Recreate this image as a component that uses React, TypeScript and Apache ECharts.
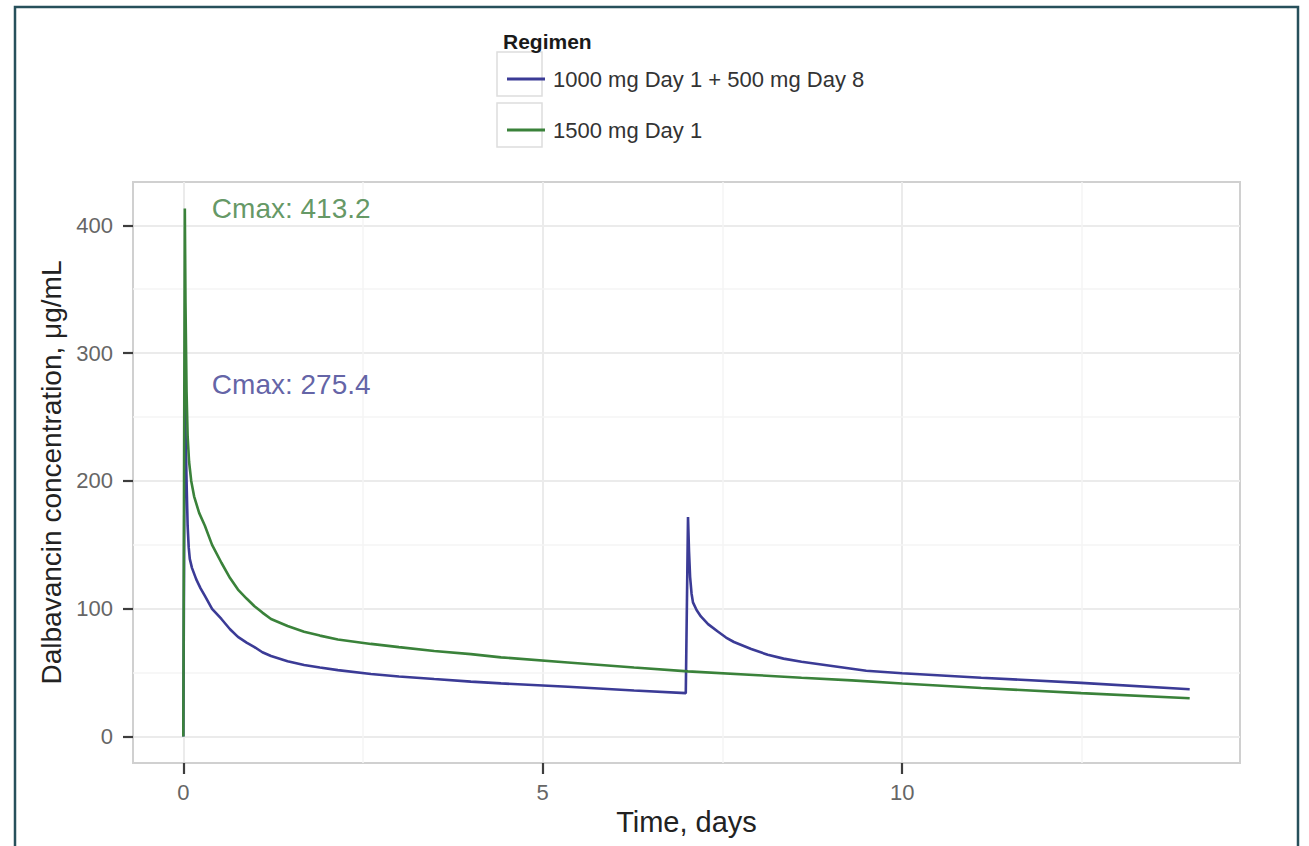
import React, { useEffect, useRef } from "react";
import * as echarts from "echarts";

// ---- data ----
const regimenNames = ["1000 mg Day 1 + 500 mg Day 8", "1500 mg Day 1"];

const splitTime = [0, 0.021, 0.03, 0.045, 0.06, 0.075, 0.09, 0.12, 0.18, 0.24, 0.3, 0.4, 0.53, 0.65, 0.76, 0.88, 0.99, 1.1, 1.22, 1.45, 1.68, 1.9, 2.15, 2.61, 3.0, 3.49, 4.0, 4.42, 5.35, 6.27, 6.99,
  7.021, 7.035, 7.05, 7.07, 7.09, 7.14, 7.2, 7.3, 7.44, 7.55, 7.66, 7.9, 8.13, 8.35, 8.6, 9.05, 9.5, 10.0, 11.1, 12.49, 14.0];
const splitConc = [0, 275.4, 240, 200, 165, 148, 139, 132, 123, 116, 110, 100, 92, 84, 78, 73.5, 70, 66, 63, 59, 56, 54, 52, 49, 47, 45, 43, 41.6, 39, 36, 34,
  171.8, 145, 125, 112, 105, 99, 94, 88, 82, 77.5, 74, 68.5, 64, 61, 58.5, 55, 51.5, 49.5, 46, 42, 37];

const singleTime = [0, 0.021, 0.03, 0.045, 0.06, 0.08, 0.11, 0.15, 0.22, 0.3, 0.4, 0.53, 0.65, 0.76, 0.88, 0.99, 1.1, 1.22, 1.45, 1.68, 1.9, 2.15, 2.61, 3.0, 3.49, 4.0, 4.42, 5.35, 6.27, 7.02, 8.0, 8.6, 9.3, 10.0, 11.1, 12.49, 14.0];
const singleConc = [0, 413.2, 340, 270, 235, 215, 200, 188, 175, 165, 150, 136, 124, 115, 108, 102, 97, 92, 86.5, 82, 79, 76, 72.5, 70, 67, 64.5, 62, 58, 54, 51, 48, 46, 44, 41.5, 38, 34, 30];

const cmaxValues = [413.2, 275.4];
const cmaxLabelX = 0.39;

const xTicks = [0, 5, 10];
const yTicks = [0, 100, 200, 300, 400];
const xMinor = [2.5, 7.5, 12.5];
const yMinor = [50, 150, 250, 350];

const xRange = [-0.7, 14.7];
const yRange = [-20.66, 433.86];

const BLUE = "#3b3b96";
const GREEN = "#3a823a";
const FONT = "'Liberation Sans', Arial, Helvetica, sans-serif";
const TICK_COLOR = "#3d3d3d";

export default function App() {
  const ref = useRef<HTMLDivElement>(null);

  useEffect(() => {
    if (!ref.current) return;
    const chart = echarts.init(ref.current, undefined, { renderer: "svg" });

    const zip = (t: number[], c: number[]) => t.map((v, i) => [v, c[i]]);

    const minorLines = [
      ...xMinor.map((v) => ({ xAxis: v })),
      ...yMinor.map((v) => ({ yAxis: v })),
    ];

    const option: any = {
      animation: false,
      title: {
        text: "Regimen",
        left: 498,
        top: 26,
        textStyle: { fontFamily: FONT, fontSize: 21, fontWeight: "bold", color: "#1a1a1a" },
      },
      legend: {
        data: regimenNames,
        orient: "vertical",
        left: 502,
        top: 59,
        icon: "rect",
        itemWidth: 38,
        itemHeight: 3,
        itemGap: 21,
        selectedMode: false,
        textStyle: { fontFamily: FONT, fontSize: 22, color: "#333", lineHeight: 30, padding: [0, 0, 0, 3] },
      },
      graphic: [
        {
          type: "rect",
          silent: true,
          shape: { x: 15, y: 7, width: 1283, height: 870 },
          style: { fill: "transparent", stroke: "#27505b", lineWidth: 2.5 },
        },
        {
          type: "rect",
          silent: true,
          shape: { x: 497, y: 52, width: 45, height: 44 },
          style: { fill: "transparent", stroke: "#dddddd", lineWidth: 1.5 },
        },
        {
          type: "rect",
          silent: true,
          shape: { x: 497, y: 103, width: 45, height: 44 },
          style: { fill: "transparent", stroke: "#dddddd", lineWidth: 1.5 },
        },
      ],
      grid: {
        left: 133,
        top: 182,
        right: 69,
        bottom: 83,
        show: true,
        borderColor: "#d0d0d0",
        borderWidth: 2,
      },
      xAxis: {
        type: "value",
        min: xRange[0],
        max: xRange[1],
        name: "Time, days",
        nameLocation: "middle",
        nameGap: 42,
        nameTextStyle: { fontFamily: FONT, fontSize: 29, color: "#222" },
        axisLine: { show: true, onZero: false, lineStyle: { color: "#d0d0d0", width: 2 } },
        axisTick: { show: true, customValues: xTicks, length: 11, lineStyle: { color: TICK_COLOR, width: 2.2 } },
        axisLabel: { customValues: xTicks, fontSize: 22, color: "#666", margin: 18, fontFamily: FONT },
        splitLine: { show: true, lineStyle: { color: "#ebebeb", width: 2 } },
      },
      yAxis: {
        type: "value",
        min: yRange[0],
        max: yRange[1],
        name: "Dalbavancin concentration, μg/mL",
        nameLocation: "middle",
        nameRotate: 90,
        nameGap: 64,
        nameTextStyle: { fontFamily: FONT, fontSize: 28, color: "#222" },
        axisLine: { show: true, onZero: false, lineStyle: { color: "#d0d0d0", width: 2 } },
        axisTick: { show: true, customValues: yTicks, length: 10, lineStyle: { color: TICK_COLOR, width: 2.2 } },
        axisLabel: { customValues: yTicks, fontSize: 22, color: "#666", margin: 20, fontFamily: FONT },
        splitLine: { show: true, lineStyle: { color: "#ebebeb", width: 2 } },
      },
      series: [
        {
          name: regimenNames[0],
          type: "line",
          data: zip(splitTime, splitConc),
          showSymbol: false,
          symbol: "none",
          color: BLUE,
          lineStyle: { color: BLUE, width: 2.6 },
          markLine: {
            silent: true,
            z: 1,
            symbol: ["none", "none"],
            label: { show: false },
            lineStyle: { color: "#f5f5f5", width: 1.5, type: "solid" },
            emphasis: { disabled: true },
            data: minorLines,
          },
        },
        {
          name: regimenNames[1],
          type: "line",
          data: zip(singleTime, singleConc),
          showSymbol: false,
          symbol: "none",
          color: GREEN,
          lineStyle: { color: GREEN, width: 2.6 },
        },
        {
          name: "Cmax",
          type: "scatter",
          symbolSize: 1,
          itemStyle: { color: "rgba(0,0,0,0)" },
          silent: true,
          data: [
            {
              value: [cmaxLabelX, cmaxValues[0]],
              label: { show: true, position: "right", distance: 0, formatter: "Cmax: " + cmaxValues[0].toFixed(1), color: "#3c7d3c", fontSize: 28, fontFamily: FONT },
            },
            {
              value: [cmaxLabelX, cmaxValues[1]],
              label: { show: true, position: "right", distance: 0, formatter: "Cmax: " + cmaxValues[1].toFixed(1), color: "#3a3a8f", fontSize: 28, fontFamily: FONT },
            },
          ],
        },
      ],
    };

    chart.setOption(option);
    return () => chart.dispose();
  }, []);

  return (
    <div
      ref={ref}
      style={{ position: "fixed", left: 0, top: 0, width: 1309, height: 846, background: "#ffffff" }}
    />
  );
}
